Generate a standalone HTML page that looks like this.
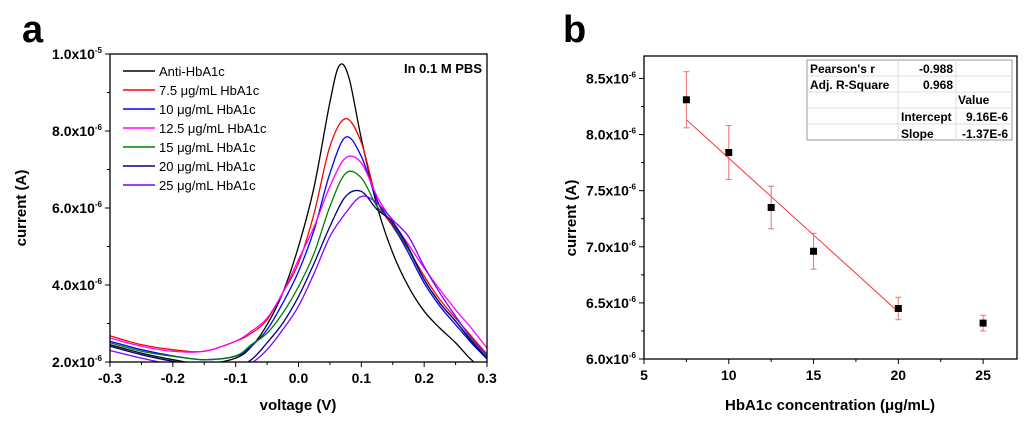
<!DOCTYPE html>
<html><head><meta charset="utf-8"><style>
body{margin:0;background:#fff;width:1024px;height:422px;overflow:hidden}
svg{font-family:"Liberation Sans",Arial,sans-serif}
</style></head><body>
<svg id="s" width="1024" height="422">
<text x="22" y="42" font-size="38" font-weight="bold">a</text>
<text x="563" y="42" font-size="38" font-weight="bold">b</text>
<g id="A"></g>
<g id="B"></g>
</svg>
<script>
// ---- Chart A data ----
const voltages=[-0.3,-0.25,-0.2,-0.15,-0.1,-0.075,-0.05,-0.025,0,0.025,0.05,0.075,0.1,0.125,0.15,0.175,0.2,0.225,0.25,0.275,0.3];
const antiVoltages=[-0.3,-0.25,-0.2,-0.15,-0.1,-0.075,-0.05,-0.025,0,0.025,0.05,0.065,0.08,0.1,0.125,0.15,0.175,0.2,0.225,0.25,0.275,0.3];
const seriesNames=["Anti-HbA1c","7.5 μg/mL HbA1c","10 μg/mL HbA1c","12.5 μg/mL HbA1c","15 μg/mL HbA1c","20 μg/mL HbA1c","25 μg/mL HbA1c"];
const seriesColors=["#000000","#ff0000","#0000ff","#ff00ff","#008000","#000080","#8000ff"];
const sAnti=[2.45,2.23,2.06,1.95,2.1,2.4,2.97,3.8,5.0,6.56,8.75,9.7,9.4,7.8,6.05,4.83,3.96,3.32,2.88,2.5,2.06,1.75];
const s75=[2.68,2.45,2.32,2.28,2.54,2.75,3.1,3.8,4.57,5.87,7.6,8.32,7.7,6.2,5.52,4.92,4.23,3.62,3.14,2.67,2.2];
const s10=[2.54,2.32,2.16,2.06,2.15,2.41,2.84,3.53,4.35,5.44,6.9,7.84,7.34,6.2,5.56,4.83,4.05,3.45,2.97,2.5,2.08];
const s125=[2.62,2.41,2.28,2.28,2.54,2.8,3.14,3.8,4.66,5.52,6.56,7.3,7.17,6.3,5.65,5.05,4.44,3.88,3.36,2.88,2.36];
const s15=[2.5,2.28,2.15,2.06,2.16,2.45,2.75,3.27,3.96,4.83,6.04,6.9,6.78,6.04,5.6,4.92,4.14,3.53,3.06,2.58,2.15];
const s20=[2.41,2.19,2.02,1.92,1.9,2.06,2.5,3.01,3.7,4.57,5.52,6.3,6.43,5.96,5.63,4.97,4.14,3.53,3.06,2.54,2.1];
const s25=[2.3,2.1,1.93,1.8,1.8,1.97,2.32,2.84,3.45,4.31,5.26,5.87,6.3,6.13,5.69,5.26,4.48,3.79,3.19,2.62,2.2];
const seriesA=[sAnti,s75,s10,s125,s15,s20,s25];
const yTicksA=[2,4,6,8,10];
const yTickLabelsA=["2.0x10","4.0x10","6.0x10","8.0x10","1.0x10"];
const yTickExpA=["-6","-6","-6","-6","-5"];
const xTicksA=[-0.3,-0.2,-0.1,0,0.1,0.2,0.3];
const xTickLabelsA=["-0.3","-0.2","-0.1","0.0","0.1","0.2","0.3"];
// ---- Chart B data ----
const concentrations=[7.5,10,12.5,15,20,25];
const currents=[8.31,7.84,7.35,6.96,6.45,6.32];
const errors=[0.25,0.24,0.19,0.16,0.1,0.07];
const fitIntercept=9.16, fitSlope=-0.137;
const fitRange=[7.5,20];
const xTicksB=[5,10,15,20,25];
const yTicksB=[6.0,6.5,7.0,7.5,8.0,8.5];
const yTickLabelsB=["6.0x10","6.5x10","7.0x10","7.5x10","8.0x10","8.5x10"];

const NS="http://www.w3.org/2000/svg";
function mk(p,t,a){const e=document.createElementNS(NS,t);for(const k in a)e.setAttribute(k,a[k]);p.appendChild(e);return e;}

// Chart A
const A=document.getElementById('A');
const ax={l:110,r:487,t:54,b:362};
const xA=v=>ax.l+(v+0.3)/0.6*(ax.r-ax.l);
const yA=v=>ax.b-(v-2)/8*(ax.b-ax.t);
const defs=mk(A,'defs',{});
const cp=mk(defs,'clipPath',{id:'cpa'});
mk(cp,'rect',{x:ax.l,y:ax.t,width:ax.r-ax.l,height:ax.b-ax.t});
function smooth(pts){let d=`M${pts[0][0]},${pts[0][1]}`;for(let i=0;i<pts.length-1;i++){const p0=pts[Math.max(0,i-1)],p1=pts[i],p2=pts[i+1],p3=pts[Math.min(pts.length-1,i+2)];d+=` C${p1[0]+(p2[0]-p0[0])/6},${p1[1]+(p2[1]-p0[1])/6} ${p2[0]-(p3[0]-p1[0])/6},${p2[1]-(p3[1]-p1[1])/6} ${p2[0]},${p2[1]}`;}return d;}
const cg=mk(A,'g',{'clip-path':'url(#cpa)'});
seriesA.forEach((s,i)=>{
  const xs=i===0?antiVoltages:voltages;
  const p=mk(cg,'path',{d:smooth(s.map((v,j)=>[xA(xs[j]),yA(v)])),fill:'none',stroke:seriesColors[i],'stroke-width':1.3});
  
  
});
mk(A,'rect',{x:ax.l,y:ax.t,width:ax.r-ax.l,height:ax.b-ax.t,fill:'none',stroke:'#000','stroke-width':1.3,});
for(let v=2;v<=10;v+=1){const y=yA(v);mk(A,'line',{x1:ax.l,x2:ax.l-(v%2==0?5:3),y1:y,y2:y,stroke:'#000'});}
yTicksA.forEach((v,i)=>{const t=mk(A,'text',{x:ax.l-8,y:yA(v)+5,'font-size':14,'font-weight':'bold','text-anchor':'end'});t.innerHTML=yTickLabelsA[i]+'<tspan dy="-6" font-size="8">'+yTickExpA[i]+'</tspan>';});
for(let k=0;k<=12;k++){const v=-0.3+k*0.05;const x=xA(v);mk(A,'line',{x1:x,x2:x,y1:ax.b,y2:ax.b+(k%2==0?5:3),stroke:'#000'});}
xTicksA.forEach((v,i)=>{const t=mk(A,'text',{x:xA(v),y:ax.b+21,'font-size':14,'font-weight':'bold','text-anchor':'middle'});t.textContent=xTickLabelsA[i];});
mk(A,'text',{x:298,y:410,'font-size':15,'font-weight':'bold','text-anchor':'middle',}).textContent='voltage (V)';
mk(A,'text',{x:0,y:0,transform:'translate(26,208) rotate(-90)','font-size':15,'font-weight':'bold','text-anchor':'middle',}).textContent='current (A)';
mk(A,'text',{x:482,y:73,'font-size':13,'font-weight':'bold','text-anchor':'end',}).textContent='In 0.1 M PBS';
seriesNames.forEach((n,i)=>{const y=71+i*19;const g=mk(A,'g',{});mk(g,'line',{x1:123,x2:155,y1:y,y2:y,stroke:seriesColors[i],'stroke-width':1.5});mk(g,'text',{x:159,y:y+5,'font-size':13}).textContent=n;});

// Chart B
const B=document.getElementById('B');
const bx={l:644,r:1017,t:56,b:359};
const xB=v=>bx.l+(v-5)/22*(bx.r-bx.l);
const yB=v=>bx.b-(v-6)/2.7*(bx.b-bx.t);
mk(B,'rect',{x:bx.l,y:bx.t,width:bx.r-bx.l,height:bx.b-bx.t,fill:'none',stroke:'#000','stroke-width':1.3,});
for(let v=6;v<=8.51;v+=0.25){const y=yB(v);const maj=Math.abs(v*2-Math.round(v*2))<1e-6;mk(B,'line',{x1:bx.l,x2:bx.l-(maj?5:3),y1:y,y2:y,stroke:'#000'});}
yTicksB.forEach((v,i)=>{const t=mk(B,'text',{x:bx.l-8,y:yB(v)+5,'font-size':14,'font-weight':'bold','text-anchor':'end'});t.innerHTML=yTickLabelsB[i]+'<tspan dy="-6" font-size="8">-6</tspan>';});
for(let v=5;v<=27;v+=2.5){const x=xB(v);mk(B,'line',{x1:x,x2:x,y1:bx.b,y2:bx.b+((v%5==0)?5:3),stroke:'#000'});}
xTicksB.forEach(v=>{const t=mk(B,'text',{x:xB(v),y:bx.b+21,'font-size':14,'font-weight':'bold','text-anchor':'middle'});t.textContent=v;});
mk(B,'text',{x:830,y:410,'font-size':15,'font-weight':'bold','text-anchor':'middle',}).textContent='HbA1c concentration (μg/mL)';
mk(B,'text',{x:0,y:0,transform:'translate(576,218) rotate(-90)','font-size':15,'font-weight':'bold','text-anchor':'middle',}).textContent='current (A)';
const fl=mk(B,'line',{x1:xB(fitRange[0]),y1:yB(fitIntercept+fitSlope*fitRange[0]),x2:xB(fitRange[1]),y2:yB(fitIntercept+fitSlope*fitRange[1]),stroke:'#ff3030','stroke-width':1});

concentrations.forEach((c,i)=>{const x=xB(c),y1=yB(currents[i]+errors[i]),y2=yB(currents[i]-errors[i]);
 const g=mk(B,'g',{});
 mk(g,'line',{x1:x,x2:x,y1:y1,y2:y2,stroke:'#f07070','stroke-width':1});
 mk(g,'line',{x1:x-3,x2:x+3,y1:y1,y2:y1,stroke:'#f07070'});
 mk(g,'line',{x1:x-3,x2:x+3,y1:y2,y2:y2,stroke:'#f07070'});
 mk(g,'rect',{x:x-3.5,y:yB(currents[i])-3.5,width:7,height:7,fill:'#000'});});
// stats table
const T=mk(B,'g',{});
mk(T,'rect',{x:807,y:60,width:205,height:80,fill:'#fff',stroke:'#999','stroke-width':1});
[76,92,108,124].forEach(y=>mk(T,'line',{x1:807,x2:1012,y1:y,y2:y,stroke:'#ddd'}));
[898,956].forEach(x=>mk(T,'line',{x1:x,x2:x,y1:60,y2:140,stroke:'#ddd'}));
const cells=[[810,73,'start',"Pearson's r"],[953,73,'end','-0.988'],[810,89,'start','Adj. R-Square'],[953,89,'end','0.968'],[958,104,'start','Value'],[901,121,'start','Intercept'],[1008,121,'end','9.16E-6'],[901,138,'start','Slope'],[1008,138,'end','-1.37E-6']];
cells.forEach(c=>mk(T,'text',{x:c[0],y:c[1],'text-anchor':c[2],'font-size':12,'font-weight':'bold'}).textContent=c[3]);
</script>
</body></html>
